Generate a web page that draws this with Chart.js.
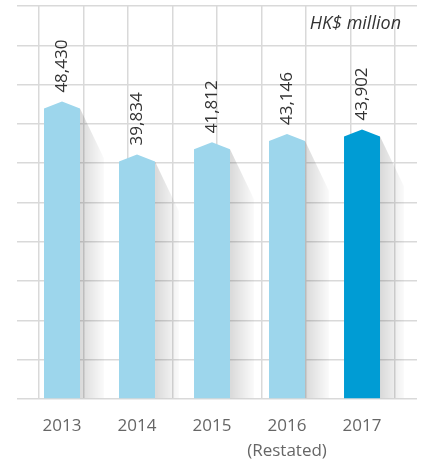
<!DOCTYPE html>
<html>
<head>
<meta charset="utf-8">
<script src="https://cdn.jsdelivr.net/npm/chart.js@4/dist/chart.umd.min.js"></script>
<style>
  html, body { margin: 0; padding: 0; background: #fff; }
  #wrap { width: 424px; height: 463px; }
</style>
</head>
<body>
<div id="wrap"><canvas id="chart"></canvas></div>
<script>
const years = ['2013', '2014', '2015', '2016', '2017'];
const subLabels = ['', '', '', '(Restated)', ''];
const revenue = [48430, 39834, 41812, 43146, 43902];
const barColors = ['#9dd6ec', '#9dd6ec', '#9dd6ec', '#9dd6ec', '#009cd4'];
const unitLabel = 'HK$ million';

const FONT = "'Open Sans', 'DejaVu Sans', sans-serif";

// draws each bar with a pointed top plus the grey shadow on its right
const peakBars = {
  id: 'peakBars',
  beforeDatasetDraw(chart, args) {
    const ctx = chart.ctx;
    const area = chart.chartArea;
    ctx.save();
    ctx.beginPath();
    ctx.rect(area.left, area.top, area.right - area.left, area.bottom - area.top);
    ctx.clip();
    args.meta.data.forEach(bar => {
      const half = bar.width / 2;
      const l = bar.x - half, r = bar.x + half;
      const top = bar.y, sh = top + 7, base = bar.base;

      const g = ctx.createLinearGradient(r, 0, r + 25, 0);
      g.addColorStop(0, 'rgba(0,0,0,0.15)');
      g.addColorStop(1, 'rgba(0,0,0,0.01)');
      ctx.fillStyle = g;
      ctx.beginPath();
      ctx.moveTo(r, sh);
      ctx.lineTo(r + 24, sh + 50);
      ctx.lineTo(r + 24, base);
      ctx.lineTo(r, base);
      ctx.closePath();
      ctx.fill();

      ctx.fillStyle = bar.options.backgroundColor;
      ctx.beginPath();
      ctx.moveTo(l, base);
      ctx.lineTo(l, sh);
      ctx.lineTo(bar.x, top);
      ctx.lineTo(r, sh);
      ctx.lineTo(r, base);
      ctx.closePath();
      ctx.fill();
    });
    ctx.restore();
    return false;
  },
  afterDatasetsDraw(chart) {
    const ctx = chart.ctx;
    const meta = chart.getDatasetMeta(0);
    ctx.save();
    ctx.fillStyle = '#333';
    ctx.font = `17px ${FONT}`;
    ctx.textAlign = 'left';
    ctx.textBaseline = 'middle';
    meta.data.forEach((bar, i) => {
      ctx.save();
      ctx.translate(bar.x, bar.y - 9);
      ctx.rotate(-Math.PI / 2);
      ctx.fillText(revenue[i].toLocaleString('en-US'), 0, 0);
      ctx.restore();
    });
    ctx.font = `italic 18px ${FONT}`;
    ctx.textAlign = 'right';
    ctx.fillText(unitLabel, chart.chartArea.right - 16, chart.chartArea.top + 18);
    ctx.restore();
  }
};

new Chart(document.getElementById('chart'), {
  type: 'bar',
  data: {
    datasets: [{
      data: revenue.map((v, i) => ({ x: i + 1, y: v })),
      backgroundColor: barColors,
      barThickness: 36
    }]
  },
  options: {
    responsive: true,
    maintainAspectRatio: false,
    animation: false,
    layout: { padding: { left: 17, right: 7, top: 6, bottom: 0 } },
    plugins: { legend: { display: false }, tooltip: { enabled: false } },
    scales: {
      x: {
        type: 'linear',
        offset: false,
        min: 0.4,
        max: 5.733,
        afterBuildTicks: s => { s.ticks = years.map((y, i) => ({ value: i + 1 })); },
        afterFit: s => { s.height = 64; },
        ticks: {
          autoSkip: false,
          maxRotation: 0,
          padding: 7,
          color: '#666',
          font: { family: FONT, size: 17, lineHeight: 1.47 },
          callback: v => {
            const i = Math.round(v) - 1;
            return subLabels[i] ? [years[i], subLabels[i]] : years[i];
          }
        },
        grid: { display: false },
        border: { display: false }
      },
      xGrid: {
        type: 'linear',
        position: 'bottom',
        offset: false,
        min: 0,
        max: 9,
        afterFit: s => { s.height = 0; },
        ticks: { display: false, stepSize: 1 },
        grid: { color: '#d9d9d9', lineWidth: 1.5, drawTicks: false },
        border: { display: false }
      },
      y: {
        min: 0,
        max: 64000,
        afterFit: s => { s.width = 0; },
        ticks: { display: false, stepSize: 6400 },
        grid: { color: '#d9d9d9', lineWidth: 1.5, drawTicks: false },
        border: { display: false }
      }
    }
  },
  plugins: [peakBars]
});
</script>
</body>
</html>
